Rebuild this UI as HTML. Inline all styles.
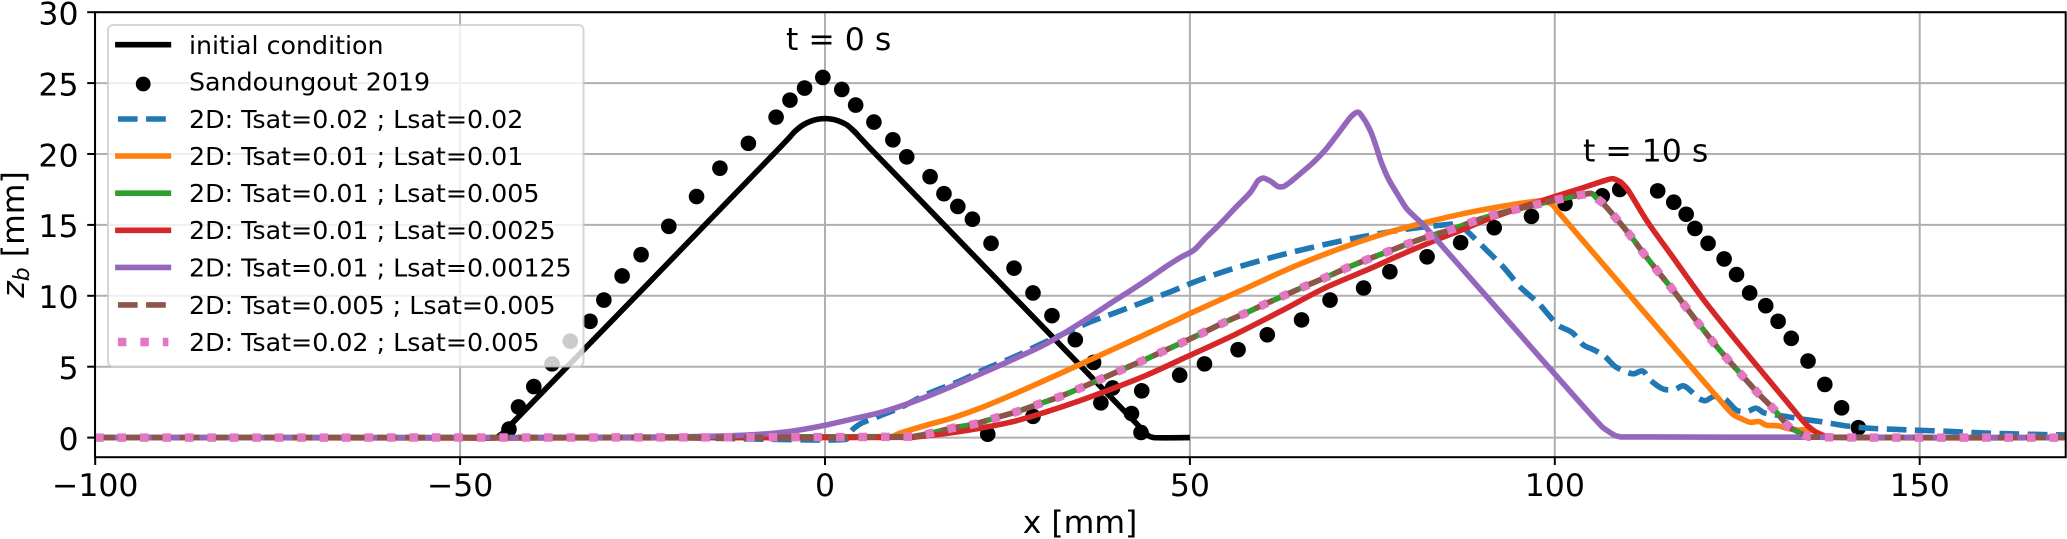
<!DOCTYPE html>
<html lang="en">
<head>
<meta charset="utf-8">
<title>Dune profiles</title>
<style>
html,body{margin:0;padding:0;background:#fff;}
svg{display:block;}
text{font-family:"DejaVu Sans","Liberation Sans",sans-serif;fill:#000;}
.tick{font-size:31.5px;}
.leg{font-size:25.3px;}
</style>
</head>
<body>
<svg id="chart" xmlns="http://www.w3.org/2000/svg" width="2067" height="539" viewBox="0 0 2067 539">
  <defs><clipPath id="plot-clip"><rect x="95" y="12.2" width="1970.7" height="445"/></clipPath></defs>
  <rect x="0" y="0" width="2067" height="539" fill="#fff"/>
  <g id="grid"></g>
  <g id="series" clip-path="url(#plot-clip)"></g>
  <rect x="95" y="12.2" width="1970.7" height="445" fill="none" stroke="#000" stroke-width="2"/>
  <g id="ticks"></g>
  <text x="1080" y="533" text-anchor="middle" font-size="31.5">x [mm]</text>
  <text transform="translate(24,234.5) rotate(-90)" text-anchor="middle" font-size="31.5"><tspan font-style="italic">z</tspan><tspan font-style="italic" font-size="22" dy="5">b</tspan><tspan dy="-5"> [mm]</tspan></text>
  <text x="786" y="50" font-size="31.5">t = 0 s</text>
  <text x="1583" y="161.5" font-size="31.5">t = 10 s</text>
  <g>
    <rect x="108" y="25" width="475.5" height="341.5" rx="5" ry="5" fill="#fff" fill-opacity="0.8" stroke="#ccc" stroke-opacity="0.8" stroke-width="2"/>
    <g>
      <line x1="117.9" x2="168.4" y1="44.7" y2="44.7" stroke="#000" stroke-width="5.6" stroke-linecap="square"/>
      <text class="leg" x="189" y="54">initial condition</text>
    </g>
    <g>
      <circle cx="143.2" cy="84" r="7.4" fill="#000"/>
      <text class="leg" x="189" y="90.7">Sandoungout 2019</text>
    </g>
    <g>
      <line x1="117.9" x2="168.4" y1="119" y2="119" stroke="#1f77b4" stroke-width="5.6" stroke-dasharray="19.7 8.5"/>
      <text class="leg" x="189" y="127.9">2D: Tsat=0.02 ; Lsat=0.02</text>
    </g>
    <g>
      <line x1="117.9" x2="168.4" y1="156" y2="156" stroke="#ff7f0e" stroke-width="5.6" stroke-linecap="square"/>
      <text class="leg" x="189" y="165">2D: Tsat=0.01 ; Lsat=0.01</text>
    </g>
    <g>
      <line x1="117.9" x2="168.4" y1="193.2" y2="193.2" stroke="#2ca02c" stroke-width="5.6" stroke-linecap="square"/>
      <text class="leg" x="189" y="202.1">2D: Tsat=0.01 ; Lsat=0.005</text>
    </g>
    <g>
      <line x1="117.9" x2="168.4" y1="230.3" y2="230.3" stroke="#d62728" stroke-width="5.6" stroke-linecap="square"/>
      <text class="leg" x="189" y="239.2">2D: Tsat=0.01 ; Lsat=0.0025</text>
    </g>
    <g>
      <line x1="117.9" x2="168.4" y1="267.4" y2="267.4" stroke="#9467bd" stroke-width="5.6" stroke-linecap="square"/>
      <text class="leg" x="189" y="276.3">2D: Tsat=0.01 ; Lsat=0.00125</text>
    </g>
    <g>
      <line x1="117.9" x2="168.4" y1="304.9" y2="304.9" stroke="#8c564b" stroke-width="5.6" stroke-dasharray="19.7 8.5"/>
      <text class="leg" x="189" y="313.8">2D: Tsat=0.005 ; Lsat=0.005</text>
    </g>
    <g>
      <line x1="117.9" x2="168.4" y1="342" y2="342" stroke="#e377c2" stroke-width="8.5" stroke-dasharray="8.47 13.98"/>
      <text class="leg" x="189" y="350.9">2D: Tsat=0.02 ; Lsat=0.005</text>
    </g>
  </g>
</svg>
<script>
const xTickValues = [-100, -50, 0, 50, 100, 150];
const xTickLabels = ["\u2212100", "\u221250", "0", "50", "100", "150"];
const yTickValues = [0, 5, 10, 15, 20, 25, 30];
const yTickLabels = ["0", "5", "10", "15", "20", "25", "30"];

const initialX = [-50, -45, -44.2, -6, -5, -4, -3, -2, -1, 0, 1, 2, 3, 4, 5, 6, 43.5, 44.4, 45, 50];
const initialY = [0, 0, 0.3, 20.55, 21.1, 21.65, 22.05, 22.3, 22.45, 22.5, 22.45, 22.3, 22.05, 21.6, 21.05, 20.5, 0.55, 0.1, 0, 0];

const measuredX = [-43.3,-42,-39.9,-37.4,-34.9,-32.2,-30.3,-27.8,-25.2,-21.4,-17.6,-14.4,-10.5,-6.7,-4.8,-2.8,-0.3,2.3,4.2,6.7,9.3,11.2,14.4,16.3,18.2,20.2,22.75,25.9,28.5,31.1,34.3,36.8,39.4,42,43.3,22.3,28.5,37.8,43.4,48.6,52,56.6,60.6,65.3,69.2,73.8,77.4,82.5,87.1,91.7,96.8,101.4,106.5,108.9,114.1,116.3,118,119.2,121,123.2,124.9,126.7,128.9,130.6,132.4,134.7,137,139.3,141.6];
const measuredY = [0.6,2.16,3.6,5.2,6.8,8.2,9.7,11.4,12.9,14.9,17,19,20.75,22.6,23.8,24.65,25.4,24.55,23.45,22.25,21,19.8,18.4,17.2,16.3,15.4,13.7,11.95,10.2,8.6,6.9,5.3,3.5,1.7,0.36,0.24,1.5,2.45,3.3,4.4,5.2,6.2,7.25,8.3,9.7,10.55,11.7,12.75,13.75,14.8,15.6,16.5,17.05,17.5,17.4,16.6,15.75,14.75,13.7,12.6,11.5,10.2,9.3,8.2,7,5.4,3.75,2.1,0.7];

const blueX = [-100,-20,3,3.65,4.8,7.5,10.3,13.9,18.7,22.1,25.8,29.2,36.3,40,43.6,47.3,51,55.5,60.1,64.6,69.2,73.8,78.4,82.9,85.7,86.6,87.2,87.9,90.2,93,95.3,97.8,99.4,100.5,102.4,104,105.3,106.7,108.3,109.7,110.8,112,113.1,115,116.5,117.6,118.6,119.7,120.6,121.8,123.2,125,126.3,127.6,128.6,131.8,134.1,136.4,140,143.2,147.7,153.8,159.9,170];
const blueY = [0,-0.02,-0.1,0.49,0.96,1.53,2.11,3.05,4.04,4.87,5.66,6.5,8.15,8.85,9.55,10.28,11.05,11.85,12.55,13.15,13.7,14.18,14.6,14.9,15.05,15.1,14.95,14.6,13.45,12,10.6,9.46,8.5,7.9,7.4,6.5,6.2,5.8,5,4.65,4.5,4.7,4.05,3.4,3.4,3.65,3.3,2.77,2.6,2.9,2.77,1.9,1.83,2.07,1.76,1.48,1.29,1.13,0.82,0.66,0.56,0.44,0.3,0.18];

const orangeX = [-100,9.1,10.2,12.1,14.4,16.7,21.2,25.8,30.4,34.9,41.8,48.6,50,56.9,64.7,71.5,78.4,82.9,87.5,91,95.8,98.5,99.6,100.5,103.5,108.1,110.8,115.8,120.4,122.7,124.5,125.7,126.8,128,128.9,130.7,131.8,133.2,135,136.2,137.3,170];
const orangeY = [0,0.02,0.3,0.6,0.95,1.27,2.07,3.05,4.1,5.15,6.78,8.4,8.75,10.35,12.16,13.5,14.65,15.25,15.8,16.15,16.55,16.7,16.45,15.9,14.1,11.35,9.72,6.72,3.96,2.6,1.6,1.3,1.08,1.13,0.89,0.82,0.66,0.54,0.54,0.3,0.05,0];

const midX = [-100,12.1,14.4,17.35,20.5,23.5,26.3,29.3,32.2,35.1,37.8,40.6,43.5,46.3,49.1,51.9,54.7,57.5,60.2,63.1,65.9,68.8,71.5,74.4,77.3,80.2,83.1,86,88.9,91.9,95,98,101,103.9,105.1,105.8,106.5,108.5,110.5,112.3,114.2,116.2,118,120,121.9,123.9,125.9,127.9,130.1,132.1,133.7,134.8,170];
const midY = [0,0.07,0.3,0.66,0.96,1.41,1.83,2.37,2.89,3.52,4.13,4.77,5.42,6.08,6.74,7.42,8.12,8.75,9.4,10.06,10.7,11.34,11.97,12.58,13.15,13.73,14.25,14.7,15.26,15.75,16.13,16.5,16.85,17.14,17.2,16.85,16.57,15.4,14.15,12.9,11.67,10.4,9.18,7.85,6.6,5.4,4.25,3.1,1.95,0.77,0.3,0.05,0];

const redX = [-100,12.1,16.7,21.2,25.8,30.4,34.9,39.5,44.1,48.6,50,56.3,62.4,68.5,74.6,78.7,83.8,87.5,89.8,94.4,100,103.5,108,109,109.9,112.6,116,120.2,125,129.5,132.5,134.5,135.9,137.1,170];
const redY = [0,0.02,0.3,0.66,1.13,1.83,2.6,3.47,4.41,5.47,5.8,7.3,8.9,10.55,11.9,12.85,13.95,14.7,15.2,16.05,17,17.56,18.26,18.03,17.56,15.3,12.85,9.85,6.75,3.95,2.1,0.9,0.35,0.05,0];

const purpleX = [-100,-30,-22,-15,-10,-6.2,-3,0,3.65,7.5,12.1,16.7,21.2,25.8,30.4,34.9,39.5,41.8,44.6,46.85,48.7,50.5,52.1,54.2,56.4,58.3,59.4,60,61,62.1,62.8,63.7,65.1,66.9,68.5,70.1,72.2,73,73.8,74.8,75.6,76.3,77.2,78.4,79.7,82,83.8,86.5,92.7,95.3,100,106.7,108.3,109,134.1,170];
const purpleY = [0,0,0.04,0.1,0.2,0.35,0.58,0.87,1.3,1.76,2.53,3.47,4.47,5.52,6.64,8.05,9.6,10.35,11.3,12.1,12.7,13.2,14.05,15.1,16.3,17.3,18.15,18.3,18.1,17.7,17.7,18,18.6,19.4,20.25,21.3,22.7,22.95,22.5,21.55,20.4,19.3,18.25,17.2,16.15,15,13.95,12.38,8.75,7.23,4.48,0.66,0.14,0.05,0.03,0];

const plotLeft = 95, plotBottom = 437.6, pxPerMmX = 7.298, pxPerMmY = 14.18, zeroX = 825;
function scaleX(v) { return zeroX + v * pxPerMmX; }
function scaleY(v) { return plotBottom - v * pxPerMmY; }

const NS = 'http://www.w3.org/2000/svg';
function make(tag, attrs, parent) {
  const el = document.createElementNS(NS, tag);
  for (const k in attrs) el.setAttribute(k, attrs[k]);
  parent.appendChild(el);
  return el;
}
function linePath(xs, ys) {
  const pts = xs.map((x, i) => [scaleX(x), scaleY(ys[i])]);
  const handles = pts.map((p, i) => {
    if (i === 0 || i === pts.length - 1) return [0, 0];
    const ax = p[0] - pts[i - 1][0], ay = p[1] - pts[i - 1][1];
    const bx = pts[i + 1][0] - p[0], by = pts[i + 1][1] - p[1];
    const la = Math.hypot(ax, ay) || 1, lb = Math.hypot(bx, by) || 1;
    const tx = ax / la * lb + bx / lb * la, ty = ay / la * lb + by / lb * la;
    const lt = Math.hypot(tx, ty) || 1;
    const h = Math.min(la, lb) / 3;
    return [tx / lt * h, ty / lt * h];
  });
  let d = 'M' + pts[0][0].toFixed(2) + ' ' + pts[0][1].toFixed(2);
  for (let i = 1; i < pts.length; i++) {
    const c1x = pts[i - 1][0] + handles[i - 1][0], c1y = pts[i - 1][1] + handles[i - 1][1];
    const c2x = pts[i][0] - handles[i][0], c2y = pts[i][1] - handles[i][1];
    d += 'C' + c1x.toFixed(2) + ' ' + c1y.toFixed(2) + ' ' + c2x.toFixed(2) + ' ' + c2y.toFixed(2) + ' ' + pts[i][0].toFixed(2) + ' ' + pts[i][1].toFixed(2);
  }
  return d;
}
const gridG = document.getElementById('grid');
const ticksG = document.getElementById('ticks');
const seriesG = document.getElementById('series');

xTickValues.forEach((v, i) => {
  const g = make('line', {x1: scaleX(v), x2: scaleX(v), y1: 12.2, y2: 457.2, stroke: '#b0b0b0', 'stroke-width': 2}, gridG);
  
  
  const t = make('line', {x1: scaleX(v), x2: scaleX(v), y1: 457.2, y2: 465, stroke: '#000', 'stroke-width': 2}, ticksG);
  
  
  const l = make('text', {x: scaleX(v), y: 496, 'text-anchor': 'middle', class: 'tick'}, ticksG);
  l.textContent = xTickLabels[i];
  
  
});
yTickValues.forEach((v, i) => {
  const g = make('line', {x1: 95, x2: 2065.7, y1: scaleY(v), y2: scaleY(v), stroke: '#b0b0b0', 'stroke-width': 2}, gridG);
  
  
  const t = make('line', {x1: 87.2, x2: 95, y1: scaleY(v), y2: scaleY(v), stroke: '#000', 'stroke-width': 2}, ticksG);
  
  
  const l = make('text', {x: 78.5, y: scaleY(v) + 12.3, 'text-anchor': 'end', class: 'tick'}, ticksG);
  l.textContent = yTickLabels[i];
  
  
});

function drawLine(xs, ys, color, width, dash) {
  const attrs = {d: linePath(xs, ys), fill: 'none', stroke: color, 'stroke-width': width, 'stroke-linejoin': 'round'};
  if (dash) attrs['stroke-dasharray'] = dash;
  return make('path', attrs, seriesG);
}
const lineInitial = drawLine(initialX, initialY, '#000', 5.6);


measuredX.forEach((x, i) => {
  const c = make('circle', {cx: scaleX(x), cy: scaleY(measuredY[i]), r: 7.8, fill: '#000'}, seriesG);
  
  
});
const lineBlue = drawLine(blueX, blueY, '#1f77b4', 5.6, '19.7 8.5');


const lineOrange = drawLine(orangeX, orangeY, '#ff7f0e', 5.6);


const lineGreen = drawLine(midX, midY, '#2ca02c', 5.6);


const lineRed = drawLine(redX, redY, '#d62728', 5.6);


const linePurple = drawLine(purpleX, purpleY, '#9467bd', 5.6);


const lineBrown = drawLine(midX, midY, '#8c564b', 5.6, '19.7 8.5');


const linePink = drawLine(midX, midY, '#e377c2', 8.5, '8.47 13.98');


</script>
</body>
</html>
